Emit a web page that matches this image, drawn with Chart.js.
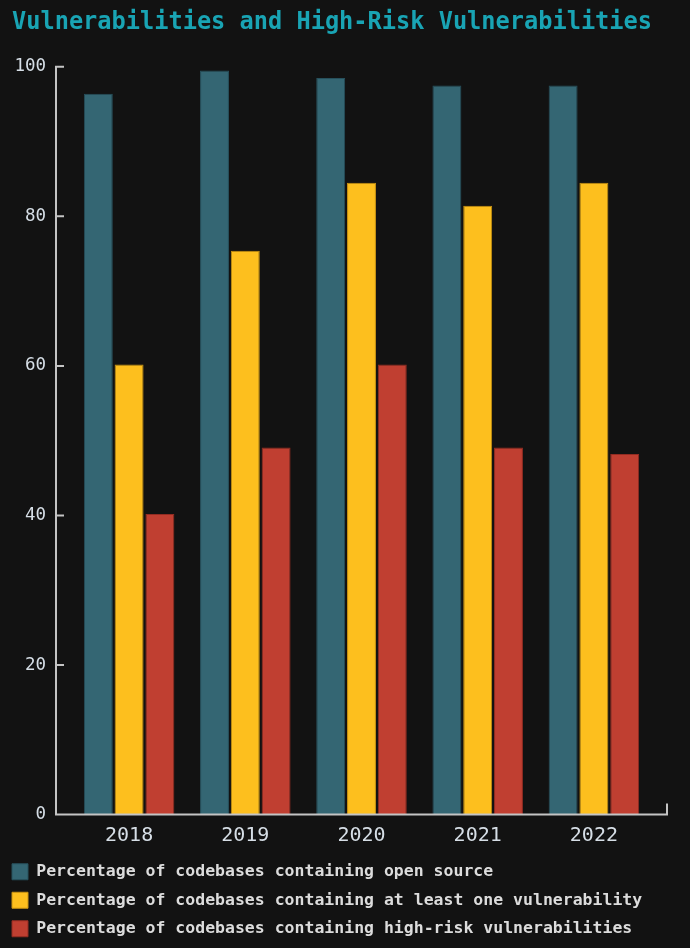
<!DOCTYPE html>
<html>
<head>
<meta charset="utf-8">
<script src="https://cdn.jsdelivr.net/npm/chart.js@4.4.0/dist/chart.umd.min.js"></script>
<style>
  html, body { margin: 0; padding: 0; background: #121212; }
  canvas { display: block; }
</style>
</head>
<body>
<canvas id="barChart" width="690" height="948"></canvas>
<script>
const years = ["2018", "2019", "2020", "2021", "2022"];
const openSource = [96.4, 99.5, 98.5, 97.5, 97.5];
const atLeastOne = [60.2, 75.4, 84.5, 81.4, 84.5];
const highRisk = [40.2, 49.1, 60.2, 49.1, 48.2];
const yTicks = [0, 20, 40, 60, 80, 100];

const MONO = "'DejaVu Sans Mono', monospace";

// axis lines sit a bit outside the plot area, ticks point inwards
const axisLines = {
  id: "axisLines",
  afterLayout(chart) {
    // nudge the title in from the canvas edge
    if (chart.titleBlock) chart.titleBlock.left = 12;
  },
  afterDatasetsDraw(chart) {
    const { ctx, chartArea } = chart;
    const y = chart.scales.y;
    const x0 = chartArea.left - 15;
    const x1 = chartArea.right + 15;
    const bottom = y.getPixelForValue(0);
    ctx.save();
    ctx.strokeStyle = "#c4c4c4";
    ctx.lineWidth = 2;
    ctx.beginPath();
    ctx.moveTo(x0, y.getPixelForValue(100) - 1);
    ctx.lineTo(x0, bottom);
    ctx.lineTo(x1, bottom);
    ctx.lineTo(x1, bottom - 11);
    yTicks.forEach(v => {
      if (v === 0) return;
      const py = y.getPixelForValue(v);
      ctx.moveTo(x0, py);
      ctx.lineTo(x0 + 8, py);
    });
    ctx.stroke();
    ctx.restore();
  }
};

const ctx = document.getElementById("barChart").getContext("2d");
new Chart(ctx, {
  type: "bar",
  data: {
    labels: years,
    datasets: [
      {
        label: "Percentage of codebases containing open source",
        data: openSource,
        backgroundColor: "#346673",
        borderColor: "#27505c",
        borderWidth: 1
      },
      {
        label: "Percentage of codebases containing at least one vulnerability",
        data: atLeastOne,
        backgroundColor: "#fdbf1e",
        borderColor: "#c99312",
        borderWidth: 1
      },
      {
        label: "Percentage of codebases containing high-risk vulnerabilities",
        data: highRisk,
        backgroundColor: "#c03f31",
        borderColor: "#932c22",
        borderWidth: 1
      }
    ]
  },
  options: {
    responsive: false,
    maintainAspectRatio: false,
    animation: false,
    layout: { padding: { top: 0, right: 38, bottom: 1, left: 0 } },
    datasets: {
      bar: { categoryPercentage: 0.795, barPercentage: 0.94 }
    },
    plugins: {
      title: {
        display: true,
        text: "Vulnerabilities and High-Risk Vulnerabilities",
        align: "start",
        color: "#19a4b4",
        font: { family: MONO, size: 24, weight: "bold" },
        padding: { top: 8, bottom: 30 }
      },
      legend: {
        position: "bottom",
        align: "start",
        labels: {
          color: "#dcdcdc",
          font: { family: MONO, size: 16.5, weight: "bold" },
          boxWidth: 16,
          boxHeight: 16,
          padding: 12
        }
      },
      tooltip: { enabled: false }
    },
    scales: {
      x: {
        grid: { display: false, drawTicks: false },
        border: { display: false },
        ticks: {
          color: "#d6dee6",
          font: { family: MONO, size: 20 },
          padding: 9
        },
        afterFit: s => { s.height = 37; }
      },
      y: {
        min: 0,
        max: 100,
        grid: { display: false, drawTicks: false },
        border: { display: false },
        ticks: {
          stepSize: 20,
          color: "#d6dee6",
          font: { family: MONO, size: 17.5 },
          padding: 25
        },
        afterFit: s => { s.width = 71; }
      }
    }
  },
  plugins: [axisLines]
});
</script>
</body>
</html>
